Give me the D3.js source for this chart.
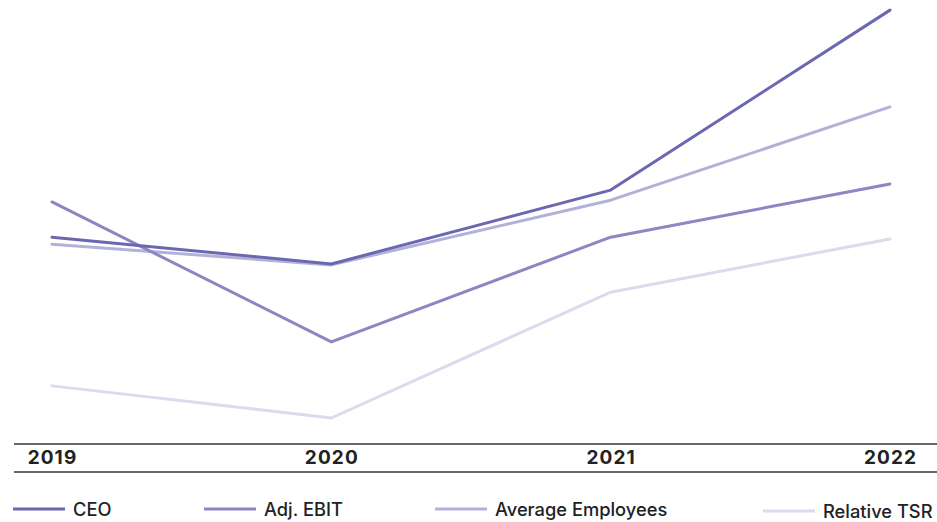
<!DOCTYPE html>
<html><head><meta charset="utf-8">
<script src="https://cdn.jsdelivr.net/npm/d3@7"></script>
<style>body{margin:0;background:#fff}svg{display:block}</style>
</head><body><svg id="c" width="937" height="522"></svg>
<script>
const years = ["2019","2020","2021","2022"];
const seriesNames = ["CEO","Adj. EBIT","Average Employees","Relative TSR"];
const ceo = [46.1, 40.0, 56.8, 97.7];
const adjEbit = [54.1, 22.3, 46.1, 58.2];
const avgEmployees = [44.5, 39.8, 54.5, 75.7];
const relativeTsr = [12.3, 5.0, 33.6, 45.7];
const colors = ["#6b67b1","#8a87c3","#b4b1d9","#dcdaee"];

const series = [ceo, adjEbit, avgEmployees, relativeTsr];
const svg = d3.select("#c");
const x = d3.scalePoint().domain(years).range([52, 890]);
const y = d3.scaleLinear().domain([0,100]).range([440, 0]);

const line = d3.line().x((d,i)=>x(years[i])).y(d=>y(d));
series.map((s,i)=>({s,i})).reverse().forEach(({s,i})=>{
  svg.append("path").attr("d", line(s)).attr("fill","none")
    .attr("stroke", colors[i]).attr("stroke-width",3)
    .attr("stroke-linecap","round").attr("stroke-linejoin","round");
});

// axis band
svg.append("line").attr("x1",14).attr("x2",937).attr("y1",444).attr("y2",444).attr("stroke","#333").attr("stroke-width",1.6);
svg.append("line").attr("x1",14).attr("x2",937).attr("y1",472).attr("y2",472).attr("stroke","#333").attr("stroke-width",1.6);
const ax = d3.axisBottom(x).tickSize(0).tickPadding(0);
const g = svg.append("g").attr("transform","translate(0,451)").call(ax);
g.select(".domain").remove();
g.selectAll("text").attr("font-family","Inter, sans-serif").attr("font-size",19).attr("font-weight",700)
  .attr("letter-spacing",1.1).attr("fill","#222").attr("dy","0.7em");

// legend
const legX = [13, 204, 435, 763];
seriesNames.forEach((n,i)=>{
  const off = i===3 ? 2 : 0;
  const lg = svg.append("g").attr("transform",`translate(${legX[i]},${509+off})`);
  lg.append("line").attr("x1",0).attr("x2",52).attr("y1",0).attr("y2",0).attr("stroke",colors[i]).attr("stroke-width",3);
  lg.append("text").attr("x",60).attr("y",0).attr("dy","0.36em").text(n)
    .attr("font-family","Inter, sans-serif").attr("font-size",18.3).attr("font-weight",500).attr("fill","#222");
});
</script></body></html>
